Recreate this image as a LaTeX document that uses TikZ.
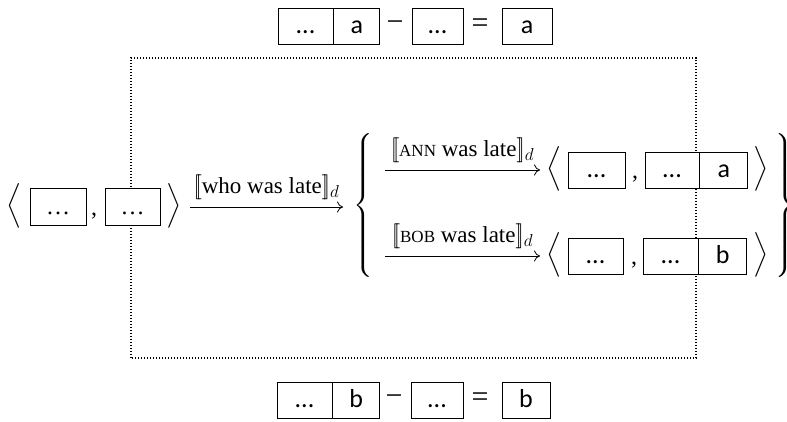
\documentclass[tikz,border=0pt]{standalone}
\usepackage{amsmath}
\usepackage{graphicx}
\usepackage{fontspec}
\setmainfont{Liberation Serif}
\newfontfamily\boxfont{Carlito}
\usetikzlibrary{arrows.meta}
\tikzset{
  cell/.style={draw, line width=0.8pt, fill=white, minimum height=36pt, inner sep=0pt,
    text height=16pt, text depth=0pt, font=\boxfont\fontsize{26}{26}\selectfont},
  scell/.style={cell, font=\fontsize{24}{26}\selectfont},
  sym/.style={inner sep=0pt, font=\fontsize{24}{26}\selectfont},
  opsym/.style={inner sep=0pt, font=\fontsize{30}{30}\selectfont},
  brace/.style={inner sep=0pt},
  lab/.style={inner sep=0pt, font=\fontsize{23}{26}\selectfont, above=7pt},
  arr/.style={-{To[length=6pt,width=11pt]}, line width=0.8pt},
  frame/.style={line width=1.3pt, dash pattern=on 1.3pt off 1.7pt},
}
\newcommand{\dbl}{[\![}
\newcommand{\dbr}{]\!]}
\newcommand{\angl}{$\left\langle\vrule height 18pt depth 18pt width 0pt\right.$}
\newcommand{\angr}{$\left.\vrule height 18pt depth 18pt width 0pt\right\rangle$}
\newcommand{\bigbrl}{\scalebox{2.2}[2]{$\left\{\vrule height 35pt depth 35pt width 0pt\right.$}}
\newcommand{\bigbrr}{\scalebox{2.2}[2]{$\left.\vrule height 35pt depth 35pt width 0pt\right\}$}}
\begin{document}
\begin{tikzpicture}[x=1pt,y=1pt]
\useasboundingbox (0,0) rectangle (787,422);
% dotted frame
\coordinate (fa) at (131,64);
\coordinate (fb) at (696,364);
\draw[frame] (fa) rectangle (fb);
% top equation
\node[cell, minimum width=55pt] (t1) at (305.5,396) {...};
\node[cell, minimum width=46pt, anchor=west] (t2) at (t1.east) {a};
\node[opsym] (tm) at (395,396) {−};
\node[cell, minimum width=51pt] (t3) at (437.5,396) {...};
\node[opsym] (teq) at (480,396) {=};
\node[cell, minimum width=50pt] (t4) at (527,396) {a};
% bottom equation
\node[cell, minimum width=55pt] (b1) at (304.5,22) {...};
\node[cell, minimum width=47pt, anchor=west] (b2) at (b1.east) {b};
\node[opsym] (bm) at (394,22) {−};
\node[cell, minimum width=52pt] (b3) at (437,22) {...};
\node[opsym] (beq) at (480,22) {=};
\node[cell, minimum width=48pt] (b4) at (526,22) {b};
% left tuple
\node[sym] (la) at (15,215) {\angl};
\node[scell, minimum width=56pt, minimum height=37pt] (l1) at (58,215) {\ldots};
\node[sym] (lc) at (94,206) {,};
\node[scell, minimum width=55pt, minimum height=37pt] (l2) at (132.5,215) {\ldots};
\node[sym] (ra) at (174,215) {\angr};
% main arrow
\coordinate (s0) at (190,215);
\coordinate (e0) at (343,215);
\draw[arr] (s0) -- node[lab] {$\dbl$who was late$\dbr_d$} (e0);
% braces
\node[brace] (lb) at (364.3,215) {\bigbrl};
\node[brace, anchor=west] (rb) at (772.6,215) {\bigbrr};
% upper row
\coordinate (s1) at (385,252);
\coordinate (e1) at (540,252);
\draw[arr] (s1) -- node[lab] {$\dbl${\fontsize{17}{17}\selectfont ANN} was late$\dbr_d$} (e1);
\node[sym] (ua) at (555,252) {\angl};
\node[cell, minimum width=57pt] (u1) at (596.5,252) {...};
\node[sym] (uc) at (635,243) {,};
\node[cell, minimum width=54pt] (u2) at (672,252) {...};
\node[cell, minimum width=48pt, anchor=west] (u3) at (u2.east) {a};
\node[sym] (ub) at (760,252) {\angr};
% lower row
\coordinate (s2) at (385,166);
\coordinate (e2) at (540,166);
\draw[arr] (s2) -- node[lab] {$\dbl${\fontsize{17}{17}\selectfont BOB} was late$\dbr_d$} (e2);
\node[sym] (va) at (555,166) {\angl};
\node[cell, minimum width=55pt] (v1) at (595.5,166) {...};
\node[sym] (vc) at (634,157) {,};
\node[cell, minimum width=55pt] (v2) at (670.5,166) {...};
\node[cell, minimum width=48pt, anchor=west] (v3) at (v2.east) {b};
\node[sym] (vb) at (760,166) {\angr};
\end{tikzpicture}
\end{document}
